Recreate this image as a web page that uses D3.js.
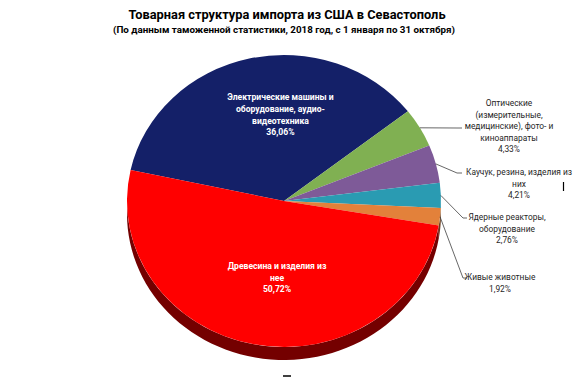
<!DOCTYPE html>
<html>
<head>
<meta charset="utf-8">
<script src="https://cdn.jsdelivr.net/npm/d3@7"></script>
<style>
  body { margin: 0; background: #fff; }
  text { font-family: Roboto, "Open Sans", sans-serif; }
</style>
</head>
<body>
<div id="chart"></div>
<script>
// data
let categories = [
  ["Электрические машины и", "оборудование, аудио-", "видеотехника"],
  ["Оптические", "(измерительные,", "медицинские), фото- и", "киноаппараты"],
  ["Каучук, резина, изделия из", "них"],
  ["Ядерные реакторы,", "оборудование"],
  ["Живые животные"],
  ["Древесина и изделия из", "нее"]
];
let values = [36.06, 4.33, 4.21, 2.76, 1.92, 50.72];
let valueLabels = ["36,06%", "4,33%", "4,21%", "2,76%", "1,92%", "50,72%"];
let colors = ["#142068", "#80b052", "#7e5a98", "#2a9bb2", "#e3813a", "#ff0000"];
let inside = [true, false, false, false, false, true];

let title = "Товарная структура импорта из США в Севастополь";
let subtitle = "(По данным таможенной статистики,  2018 год, с 1 января по 31 октября)";

// layout
let W = 577, H = 377;
let cx = 284, cy = 201, rx = 157, ry = 146, depth = 13;
let startDeg = -77.7;

// outside label anchors: knee of leader, end of leader, text centre and first baseline
let outLayout = {
  1: {kx: 457, ky: 128, ex: 462, tx: 509, ty: 106},
  2: {kx: 457, ky: 173, ex: 462, tx: 519, ty: 175},
  3: {kx: 463, ky: 218, ex: 467, tx: 507, ty: 220},
  4: {kx: 463, ky: 278, ex: 467, tx: 500, ty: 280}
};
// inside label nudges (px) from centroid
let inLayout = {
  0: {k: 0.62, dx: 18, dy: 2},
  5: {k: 0.5, dx: 8, dy: 5}
};

let svg = d3.select("#chart")
  .append("svg")
    .attr("width", W)
    .attr("height", H);

// title
svg.append("text")
  .attr("x", 287).attr("y", 19)
  .attr("text-anchor", "middle")
  .attr("font-weight", "bold")
  .attr("font-size", "12.8px")
  .attr("fill", "#000")
  .text(title);

svg.append("text")
  .attr("x", 284).attr("y", 33)
  .attr("text-anchor", "middle")
  .attr("font-weight", "bold")
  .attr("font-size", "9.8px")
  .attr("fill", "#000")
  .text(subtitle);

let pie = d3.pie()
  .sort(null)
  .startAngle(startDeg * Math.PI / 180)
  .endAngle(startDeg * Math.PI / 180 + 2 * Math.PI);

let arcs = pie(values);

// point on the ellipse for a d3 angle (0 = top, clockwise)
function ept(a, off) {
  return [cx + rx * Math.sin(a), cy - ry * Math.cos(a) + (off || 0)];
}

// 3d side wall, only the front half is visible
let sideG = svg.append("g");
arcs.forEach(function(d, i) {
  let s = Math.max(d.startAngle, Math.PI / 2);
  let e = Math.min(d.endAngle, 3 * Math.PI / 2);
  if (e <= s) return;
  let n = 60;
  let top = d3.range(n + 1).map(j => ept(s + (e - s) * j / n));
  let bot = d3.range(n + 1).map(j => ept(e - (e - s) * j / n, depth));
  sideG.append("path")
    .attr("d", d3.line()(top.concat(bot)) + "Z")
    .attr("fill", d3.rgb(colors[i]).darker(2.2));
});

// top face
let arc = d3.arc().innerRadius(0).outerRadius(rx);
svg.append("g")
  .attr("transform", `translate(${cx},${cy}) scale(1,${ry / rx})`)
  .selectAll("path")
  .data(arcs)
  .enter().append("path")
    .attr("d", arc)
    .attr("fill", (d, i) => colors[i]);

// labels
let lineH = 11.6;
arcs.forEach(function(d, i) {
  let mid = (d.startAngle + d.endAngle) / 2;
  let lines = categories[i].concat([valueLabels[i]]);
  if (inside[i]) {
    let L = inLayout[i];
    let p = [cx + L.k * rx * Math.sin(mid) + L.dx, cy - L.k * ry * Math.cos(mid) + L.dy];
    let y0 = p[1] - (lines.length - 1) * lineH / 2 + 3;
    let t = svg.append("text")
      .attr("text-anchor", "middle")
      .attr("font-weight", "bold")
      .attr("font-size", "8.6px")
      .attr("fill", "#fff");
    lines.forEach(function(l, j) {
      t.append("tspan").attr("x", p[0]).attr("y", y0 + j * lineH).text(l);
    });
  } else {
    let L = outLayout[i];
    let p = ept(mid);
    svg.append("path")
      .attr("d", d3.line()([p, [L.kx, L.ky], [L.ex, L.ky]]))
      .attr("fill", "none")
      .attr("stroke", "#404040")
      .attr("stroke-width", 0.8);
    let t = svg.append("text")
      .attr("text-anchor", "middle")
      .attr("font-size", "8.4px")
      .attr("fill", "#262626");
    lines.forEach(function(l, j) {
      t.append("tspan").attr("x", L.tx).attr("y", L.ty + j * lineH).text(l);
    });
  }
});

// stray marks from the original picture
svg.append("line").attr("x1", 563.5).attr("x2", 563.5).attr("y1", 182).attr("y2", 191)
  .attr("stroke", "#000").attr("stroke-width", 1.2);
svg.append("line").attr("x1", 283).attr("x2", 291).attr("y1", 376).attr("y2", 376)
  .attr("stroke", "#000").attr("stroke-width", 1.5);
</script>
</body>
</html>
